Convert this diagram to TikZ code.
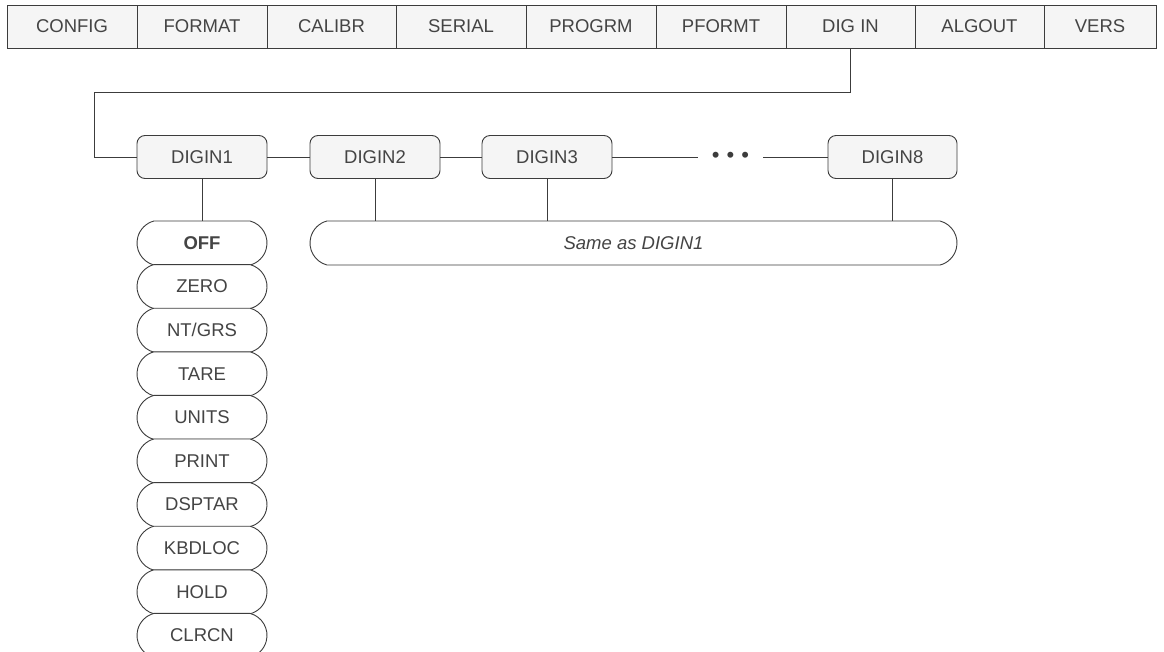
\documentclass[tikz,border=0pt]{standalone}
\usepackage{fontspec}
\setmainfont{Liberation Sans}
\usetikzlibrary{shapes.misc}
\definecolor{ln}{HTML}{3C3C3C}
\definecolor{tx}{HTML}{444444}
\definecolor{bg}{HTML}{F5F5F5}
\tikzset{
  base/.style={draw=ln, line width=0.9pt, text=tx, font=\fontsize{18.5}{20}\selectfont, inner sep=0pt},
  menu/.style={base, rectangle, fill=bg, minimum height=43},
  digbox/.style={base, rectangle, rounded corners=8pt, fill=bg, minimum width=130, minimum height=43},
  opt/.style={base, rounded rectangle, rounded rectangle arc length=150, fill=white, minimum width=130, minimum height=44},
  wire/.style={draw=ln, line width=0.9pt}
}
\begin{document}
\begin{tikzpicture}[x=1pt,y=-1pt]
\useasboundingbox (0,0) rectangle (1164,651);
% menu bar
\node[menu, minimum width=130] (m1) at (72,26.5) {CONFIG};
\node[menu, minimum width=130] (m2) at (202,26.5) {FORMAT};
\node[menu, minimum width=129] (m3) at (331.5,26.5) {CALIBR};
\node[menu, minimum width=130] (m4) at (461,26.5) {SERIAL};
\node[menu, minimum width=130] (m5) at (591,26.5) {PROGRM};
\node[menu, minimum width=130] (m6) at (721,26.5) {PFORMT};
\node[menu, minimum width=129] (m7) at (850.5,26.5) {DIG IN};
\node[menu, minimum width=129] (m8) at (979.5,26.5) {ALGOUT};
\node[menu, minimum width=112] (m9) at (1100,26.5) {VERS};
% digin boxes
\node[digbox] (d1) at (202,157) {DIGIN1};
\node[digbox] (d2) at (375,157) {DIGIN2};
\node[digbox] (d3) at (547,157) {DIGIN3};
\node[digbox, minimum width=129] (d8) at (892.5,157) {DIGIN8};
\node[text=ln, inner sep=0pt, minimum width=65, font=\fontsize{22}{24}\selectfont] (dots) at (730.5,157) {•\hspace{7pt}•\hspace{7pt}•};
\coordinate (turn) at (94,92);
\draw[wire] (m7.south) |- (turn) |- (d1.west);
\draw[wire] (d1) -- (d2);
\draw[wire] (d2) -- (d3);
\draw[wire] (d3) -- (dots);
\draw[wire] (dots) -- (d8);
% options
\foreach \t [count=\i] in {OFF,ZERO,NT/GRS,TARE,UNITS,PRINT,DSPTAR,KBDLOC,HOLD,CLRCN}{
  \node[opt] (o\i) at (202,{243+(\i-1)*43.6}) {\ifnum\i=1 \bfseries\fi\t};
}
\node[opt, minimum width=647] (same) at (633.5,243) {\itshape Same as DIGIN1};
\draw[wire] (d1.south) -- (o1.north);
\draw[wire] (d2.south) -- (d2.south |- same.north);
\draw[wire] (d3.south) -- (d3.south |- same.north);
\draw[wire] (d8.south) -- (d8.south |- same.north);
\end{tikzpicture}
\end{document}
